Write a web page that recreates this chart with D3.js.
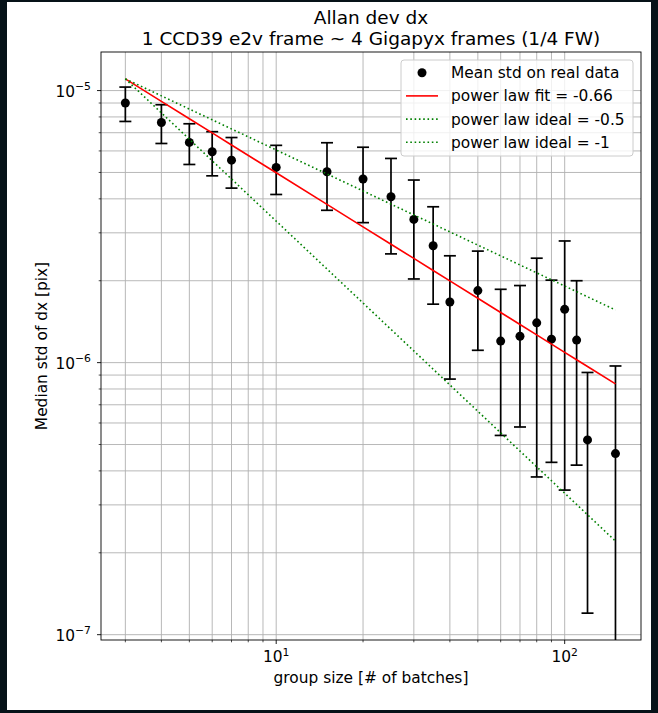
<!DOCTYPE html>
<html>
<head>
<meta charset="utf-8">
<script src="https://cdn.jsdelivr.net/npm/d3@7"></script>
<style>
  html, body { margin: 0; padding: 0; background: #061218; }
  svg { display: block; }
  text { font-family: "DejaVu Sans", sans-serif; fill: #000; }
</style>
</head>
<body>
<svg id="chart" width="658" height="713"></svg>
<script>
// group sizes (# of batches)
const groupSizes = [3, 4, 5, 6, 7, 10, 15, 20, 25, 30, 35, 40, 50, 60, 70, 80, 90, 100, 110, 120, 150];
// median std of dx [pix], in units of 1e-6
const meanStd = [9.0, 7.63, 6.45, 5.96, 5.55, 5.22, 5.03, 4.73, 4.07, 3.36, 2.69, 1.67, 1.84, 1.20, 1.25, 1.40, 1.22, 1.57, 1.21, 0.52, 0.463];
// symmetric error (1 sigma), in units of 1e-6
const stdErr = [1.3, 1.24, 1.1, 1.1, 1.17, 1.07, 1.4, 1.46, 1.56, 1.33, 1.05, 0.80, 0.73, 0.66, 0.67, 1.02, 0.79, 1.23, 0.79, 0.40, 0.509];
const unit = 1e-6;

// power laws anchored at the first group size
const lawAnchor = 11.04;          // value at x = 3, units of 1e-6
const fitExponent = -0.66;
const idealExponents = [-0.5, -1];

const xMajorTicks = [10, 100];
const yMajorTicks = [1e-7, 1e-6, 1e-5];
const yTickExponents = ["\u22127", "\u22126", "\u22125"];
const xTickExponents = ["1", "2"];

const titleLines = ["Allan dev dx", "1 CCD39 e2v frame ~ 4 Gigapyx frames (1/4 FW)"];
const legendLabels = ["Mean std on real data", "power law fit = -0.66", "power law ideal = -0.5", "power law ideal = -1"];

// ---- layout ----
const svg = d3.select("#chart");
const plot = { left: 101, right: 641, top: 52, bottom: 640 };
const xLim = [2.47, 183.9];
const yLim = [9.56e-8, 1.386e-5];
const fs = 15.4, fsTitle = 18.5, fsSup = 10.8;

svg.append("rect").attr("x", 7).attr("y", 2).attr("width", 644).attr("height", 708).attr("fill", "#fff");

const x = d3.scaleLog().domain(xLim).range([plot.left, plot.right]);
const y = d3.scaleLog().domain(yLim).range([plot.bottom, plot.top]);

const xMinor = [];
[1, 10, 100].forEach(d => { for (let k = 2; k <= 9; k++) { const v = d * k; if (v > xLim[0] && v < xLim[1]) xMinor.push(v); } });
const yMinor = [];
[1e-8, 1e-7, 1e-6, 1e-5].forEach(d => { for (let k = 2; k <= 9; k++) { const v = d * k; if (v > yLim[0] && v < yLim[1]) yMinor.push(v); } });

// grid (major + minor)
const grid = svg.append("g").attr("stroke", "#b0b0b0").attr("stroke-width", 0.9);
xMinor.concat(xMajorTicks).forEach(v => {
  grid.append("line").attr("x1", x(v)).attr("x2", x(v)).attr("y1", plot.top).attr("y2", plot.bottom);
});
yMinor.concat(yMajorTicks).forEach(v => {
  grid.append("line").attr("y1", y(v)).attr("y2", y(v)).attr("x1", plot.left).attr("x2", plot.right);
});

// clip to the axes area
svg.append("clipPath").attr("id", "plotClip").append("rect")
  .attr("x", plot.left).attr("y", plot.top)
  .attr("width", plot.right - plot.left).attr("height", plot.bottom - plot.top);
const body = svg.append("g").attr("clip-path", "url(#plotClip)");

const data = groupSizes.map((g, i) => ({ g, v: meanStd[i] * unit, e: stdErr[i] * unit }));

// error bars
const eb = body.append("g").attr("stroke", "#000").attr("stroke-width", 1.7);
data.forEach(d => {
  const hi = d.v + d.e, lo = d.v - d.e;
  const yHi = y(hi);
  const yLo = lo > 0 ? y(lo) : plot.bottom + 10;
  eb.append("line").attr("x1", x(d.g)).attr("x2", x(d.g)).attr("y1", yHi).attr("y2", yLo);
  eb.append("line").attr("x1", x(d.g) - 6).attr("x2", x(d.g) + 6).attr("y1", yHi).attr("y2", yHi);
  if (lo > 0) eb.append("line").attr("x1", x(d.g) - 6).attr("x2", x(d.g) + 6).attr("y1", yLo).attr("y2", yLo);
});

// markers
body.append("g").selectAll("circle").data(data).join("circle")
  .attr("cx", d => x(d.g)).attr("cy", d => y(d.v)).attr("r", 4.5).attr("fill", "#000");

// power law lines
const x0 = groupSizes[0];
const law = p => groupSizes.map(g => [g, lawAnchor * unit * Math.pow(g / x0, p)]);
const lineGen = d3.line().x(d => x(d[0])).y(d => y(d[1]));

body.append("path").datum(law(fitExponent)).attr("d", lineGen)
  .attr("fill", "none").attr("stroke", "#ff0000").attr("stroke-width", 1.6);
idealExponents.forEach(p => {
  body.append("path").datum(law(p)).attr("d", lineGen)
    .attr("fill", "none").attr("stroke", "#008000").attr("stroke-width", 1.6)
    .attr("stroke-dasharray", "1.6,2.7");
});

// spines
svg.append("rect").attr("x", plot.left).attr("y", plot.top)
  .attr("width", plot.right - plot.left).attr("height", plot.bottom - plot.top)
  .attr("fill", "none").attr("stroke", "#000").attr("stroke-width", 0.9);

// ticks
const ticks = svg.append("g").attr("stroke", "#000");
xMajorTicks.forEach(v => ticks.append("line").attr("x1", x(v)).attr("x2", x(v)).attr("y1", plot.bottom).attr("y2", plot.bottom + 4).attr("stroke-width", 0.9));
xMinor.forEach(v => ticks.append("line").attr("x1", x(v)).attr("x2", x(v)).attr("y1", plot.bottom).attr("y2", plot.bottom + 2.3).attr("stroke-width", 0.7));
yMajorTicks.forEach(v => ticks.append("line").attr("y1", y(v)).attr("y2", y(v)).attr("x1", plot.left).attr("x2", plot.left - 4).attr("stroke-width", 0.9));
yMinor.forEach(v => ticks.append("line").attr("y1", y(v)).attr("y2", y(v)).attr("x1", plot.left).attr("x2", plot.left - 2.3).attr("stroke-width", 0.7));

// tick labels
xMajorTicks.forEach((v, i) => {
  const t = svg.append("text").attr("x", x(v)).attr("y", 662).attr("text-anchor", "middle").style("font-size", fs + "px");
  t.append("tspan").text("10");
  t.append("tspan").attr("dy", -6.5).style("font-size", fsSup + "px").text(xTickExponents[i]);
});
yMajorTicks.forEach((v, i) => {
  const t = svg.append("text").attr("x", 91).attr("y", y(v) + 6).attr("text-anchor", "end").style("font-size", fs + "px");
  t.append("tspan").text("10");
  t.append("tspan").attr("dy", -6.5).style("font-size", fsSup + "px").text(yTickExponents[i]);
});

// axis labels
svg.append("text").attr("x", (plot.left + plot.right) / 2).attr("y", 683)
  .attr("text-anchor", "middle").style("font-size", fs + "px").text("group size [# of batches]");
svg.append("text").attr("transform", `translate(47,${(plot.top + plot.bottom) / 2}) rotate(-90)`)
  .attr("text-anchor", "middle").style("font-size", fs + "px").text("Median std of dx [pix]");

// title
titleLines.forEach((s, i) => {
  svg.append("text").attr("x", (plot.left + plot.right) / 2).attr("y", 24 + i * 21)
    .attr("text-anchor", "middle").style("font-size", fsTitle + "px").text(s);
});

// legend
const lg = svg.append("g");
lg.append("rect").attr("x", 401).attr("y", 60).attr("width", 232).attr("height", 96).attr("rx", 3)
  .attr("fill", "#fff").attr("fill-opacity", 0.8).attr("stroke", "#cccccc").attr("stroke-width", 1);
const rowY = i => 72.7 + i * 23.2;
lg.append("circle").attr("cx", 422).attr("cy", rowY(0)).attr("r", 4.5).attr("fill", "#000");
lg.append("line").attr("x1", 406).attr("x2", 438).attr("y1", rowY(1)).attr("y2", rowY(1))
  .attr("stroke", "#ff0000").attr("stroke-width", 1.6);
[2, 3].forEach(i => lg.append("line").attr("x1", 406).attr("x2", 438).attr("y1", rowY(i)).attr("y2", rowY(i))
  .attr("stroke", "#008000").attr("stroke-width", 1.6).attr("stroke-dasharray", "1.6,2.7"));
legendLabels.forEach((s, i) => {
  lg.append("text").attr("x", 451).attr("y", rowY(i) + 5.5).style("font-size", fs + "px").text(s);
});
</script>
</body>
</html>
